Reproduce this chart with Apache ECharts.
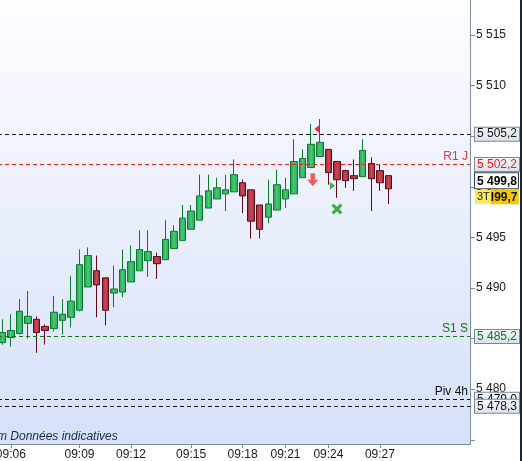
<!DOCTYPE html>
<html><head><meta charset="utf-8">
<script src="https://cdn.jsdelivr.net/npm/echarts@6/dist/echarts.min.js"></script>
<style>html,body{margin:0;padding:0;background:#fff;}#c{width:522px;height:461px;}</style>
</head><body><div id="c"></div>
<script>
// OHLC: [open, close, low, high]
var opens  = [5484.6,5485.1,5485.5,5486.5,5486.9,5486.2,5486.0,5486.8,5487.1,5487.8,5490.1,5491.7,5491.0,5489.5,5489.6,5490.6,5491.7,5492.7,5493.1,5492.8,5493.9,5494.7,5495.8,5496.7,5497.9,5498.8,5499.3,5499.5,5500.4,5499.7,5498.2,5497.0,5497.7,5498.8,5499.3,5500.9,5501.9,5503.0,5503.7,5502.5,5501.6,5501.1,5501.0,5502.3,5501.6,5501.1];
var closes = [5485.6,5485.8,5487.7,5487.2,5485.6,5485.8,5487.6,5487.4,5488.7,5492.3,5493.2,5490.3,5487.8,5489.9,5491.8,5492.6,5493.8,5493.6,5492.4,5494.8,5495.6,5496.9,5497.6,5499.1,5499.6,5499.9,5499.7,5501.2,5499.1,5496.6,5495.8,5498.3,5500.2,5499.7,5502.5,5502.8,5504.2,5504.4,5501.4,5500.7,5500.6,5500.8,5503.6,5500.8,5500.4,5499.8];
var lows   = [5484.4,5484.2,5485.4,5485.0,5483.6,5484.4,5485.7,5485.4,5486.1,5487.7,5490.1,5487.1,5486.3,5488.1,5489.1,5490.6,5491.7,5491.1,5490.9,5492.8,5493.9,5494.7,5495.8,5496.7,5497.9,5498.8,5497.6,5499.5,5497.4,5494.9,5494.9,5496.4,5497.7,5497.9,5499.3,5500.9,5501.9,5503.0,5500.2,5498.9,5499.9,5499.6,5501.0,5497.6,5499.6,5498.3];
var highs  = [5486.9,5487.4,5488.9,5489.7,5487.2,5486.4,5489.2,5488.9,5491.2,5493.8,5494.0,5493.2,5491.0,5492.2,5493.8,5494.2,5495.7,5495.7,5493.5,5496.7,5496.2,5498.2,5498.2,5501.2,5501.2,5500.9,5501.2,5502.7,5500.7,5499.7,5498.2,5500.7,5501.7,5500.9,5504.7,5503.7,5506.2,5506.7,5503.7,5502.5,5501.7,5502.7,5504.7,5502.9,5502.2,5501.1];

var slotCount = 55;               // candle slots on the time axis (incl. empty space at right)
var timeIdx   = [1, 9, 15, 22, 28, 33, 38, 44];
var timeText  = ['09:06','09:09','09:12','09:15','09:18','09:21','09:24','09:27'];

// horizontal levels
var levelVals  = [5505.2, 5502.2, 5485.2, 5479.0, 5478.3];
var levelText  = ['5 505,2','5 502,2','5 485,2','5 479,0','5 478,3'];
var levelNames = ['', 'R1 J', 'S1 S', 'Piv 4h', ''];
var levelColor = ['#111111', '#f01c1c', '#107a10', '#111111', '#111111'];

var lastPrice = 5499.8;
var lastText = '5 499,8';
var timerText = ['3T', 'I99,7'];

// signal markers: [slot index, price]
var sigIdx = [37, 36, 38, 39];
var sigVal = [5505.7, 5500.7, 5500.1, 5497.8];
var sigOffset = [[-3,0],[1.5,0],[4,0],[0,0]];

var yMin = 5474.58, yMax = 5518.46;

var categories = [];
for (var i = 0; i < slotCount; i++) categories.push('');
timeIdx.forEach(function (k, j) { categories[k] = timeText[j]; });

var ohlc = opens.map(function (o, i) { return [o, closes[i], lows[i], highs[i]]; });

function fmt(v) {
  var s = v.toFixed(0);
  return s.replace(/\B(?=(\d{3})+(?!\d))/g, ' ');
}

var G = echarts.graphic.LinearGradient;
var FONT = '"Liberation Sans", Arial, sans-serif';

var boxStyle = function (c) {
  return {
    show: true, position: 'end', distance: 5,
    formatter: '', color: c, fontFamily: FONT, fontSize: 12,
    backgroundColor: new G(0, 0, 0, 1, [{offset: 0, color: '#f4f7fb'}, {offset: 1, color: '#d9e1ee'}]),
    borderColor: '#7a8898', borderWidth: 1, padding: [1, 2, 0, 2]
  };
};

var mlData = [];
levelVals.forEach(function (v, i) {
  var ls = {type: [4, 3], width: 1, color: levelColor[i]};
  var lb = boxStyle(levelColor[i]);
  lb.formatter = levelText[i];
  mlData.push({yAxis: v, lineStyle: ls, label: lb});
  if (levelNames[i]) {
    mlData.push({yAxis: v, lineStyle: ls, label: {
      show: true, position: 'insideEndTop', distance: 2, formatter: levelNames[i],
      color: levelColor[i] === '#f01c1c' ? '#e83838' : levelColor[i], fontFamily: FONT, fontSize: 12
    }});
  }
});
mlData.push({yAxis: lastPrice, lineStyle: {color: 'rgba(0,0,0,0)', width: 1, type: 'solid'}, label: {
  show: true, position: 'end', distance: 5,
  formatter: '{p|' + lastText + '}\n{a|' + timerText[0] + '}{b|' + timerText[1] + '}',
  rich: {
    p: {backgroundColor: '#ffffff', borderColor: '#34455a', borderWidth: 1, width: 40, padding: [2, 1, 1, 2],
        fontWeight: 'bold', fontSize: 12, color: '#000', fontFamily: FONT, lineHeight: 16},
    a: {backgroundColor: '#ffe660', color: '#222', fontSize: 11, fontFamily: FONT, padding: [2, 1, 1, 2], lineHeight: 16},
    b: {backgroundColor: '#f7c800', color: '#111', fontWeight: 'bold', fontSize: 12, fontFamily: FONT, width: 27, padding: [2, 1, 1, 0], lineHeight: 16}
  }
}});

var sigSymbols = [
  'path://M0,5 L7,0 L7,10 Z',
  'path://M3,0 L7,0 L7,6 L10,6 L5,12 L0,6 L3,6 Z',
  'path://M0,0 L7,5 L0,10 Z',
  'path://M2,0 L5,3 L8,0 L10,2 L7,5 L10,8 L8,10 L5,7 L2,10 L0,8 L3,5 L0,2 Z'
];
var sigSizes = [[5, 8], [11, 13], [5, 8], [11, 11]];
var sigColors = ['#e03040', '#f05a5a', '#2eb84a', '#3cb043'];
var mpData = sigIdx.map(function (k, i) {
  return {coord: [k, sigVal[i]], symbol: sigSymbols[i], symbolSize: sigSizes[i],
          symbolOffset: sigOffset[i], itemStyle: {color: sigColors[i]}, label: {show: false}};
});

var chart = echarts.init(document.getElementById('c'), null, {renderer: 'canvas'});
var showLab = function (idx, val) { return val !== ''; };
chart.setOption({
  animation: false,
  backgroundColor: '#ffffff',
  grid: {left: -2, right: 52, top: 0, bottom: 17, show: true, borderWidth: 0,
    outerBoundsMode: 'none', containLabel: false,
    backgroundColor: new G(0, 0, 0, 1, [{offset: 0, color: '#fdfdff'}, {offset: 1, color: '#d6e0f9'}])},
  xAxis: {
    type: 'category', data: categories, boundaryGap: true,
    axisLine: {show: true, lineStyle: {color: '#7d8c9c', width: 1}},
    axisTick: {show: true, alignWithLabel: true, interval: showLab, length: 4, lineStyle: {color: '#7d8c9c'}},
    axisLabel: {interval: showLab, margin: 5, color: '#1a1a22', fontSize: 12, fontFamily: FONT},
    splitLine: {show: false}
  },
  yAxis: {
    type: 'value', position: 'right', min: yMin, max: yMax, scale: true,
    minInterval: 5, maxInterval: 5, splitNumber: 9,
    axisLine: {show: true, lineStyle: {color: '#7d8c9c', width: 1}},
    axisTick: {show: true, length: 5, lineStyle: {color: '#7d8c9c'}},
    axisLabel: {margin: 6, color: '#1a1a22', fontSize: 12, fontFamily: FONT, showMinLabel: false, showMaxLabel: false,
      formatter: function (v) { return (v > yMin + 3 && Math.abs(v / 5 - Math.round(v / 5)) < 1e-6) ? fmt(v) : ''; }},
    splitLine: {show: false}
  },
  series: [{
    type: 'candlestick', data: ohlc, barWidth: 7,
    itemStyle: {
      color: new G(0, 0, 1, 0, [{offset: 0, color: '#1e9c48'}, {offset: 0.5, color: '#48c978'}, {offset: 1, color: '#22a44e'}]),
      color0: new G(0, 0, 1, 0, [{offset: 0, color: '#9e2232'}, {offset: 0.5, color: '#c84a5a'}, {offset: 1, color: '#a22434'}]),
      borderColor: '#0a7a2c', borderColor0: '#5e0a16', borderWidth: 1
    },
    markLine: {silent: true, symbol: ['none', 'none'], animation: false, data: mlData},
    markPoint: {silent: true, animation: false, data: mpData}
  }],
  graphic: [
    {type: 'text', x: -3, y: 431, z: 10, style: {text: 'm Données indicatives', font: 'italic 12px ' + FONT, fill: '#1c2a48'}},
    {type: 'rect', right: 0, top: 0, z: 10, shape: {width: 2, height: 461}, style: {fill: '#1b2431'}}
  ]
});
</script>
</body></html>
